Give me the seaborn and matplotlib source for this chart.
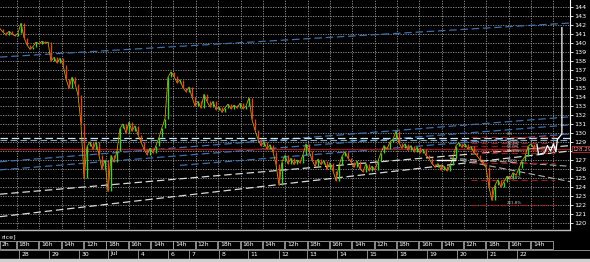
import numpy as np
import pandas as pd
import matplotlib
matplotlib.use("Agg")
import matplotlib.pyplot as plt
import seaborn as sns

# ---------------- data ----------------
close = [141.6, 141.2, 140.9, 141.3, 141.0, 140.8, 141.1, 142.2, 140.6, 139.8,
         139.3, 139.6, 140.1, 139.9, 140.2, 140.0, 140.1, 138.0, 138.4, 137.8,
         138.3, 137.6, 136.0, 135.0, 136.2, 135.5, 134.2, 131.0, 125.0, 128.5,
         129.0, 128.2, 129.0, 127.5, 126.0, 127.0, 123.5, 127.5, 126.8, 128.0,
         130.5, 131.0, 130.0, 131.2, 130.2, 130.8, 129.8, 129.0, 128.2, 127.6,
         128.3, 127.8, 128.6, 129.5, 130.6, 131.6, 136.2, 136.8, 136.3, 135.6,
         135.9, 135.0, 134.6, 135.1, 134.0, 133.0, 133.5, 132.8, 134.3, 133.5,
         132.9, 133.5, 132.6, 132.9, 132.3, 132.8, 133.2, 132.7, 133.1, 132.8,
         133.3, 132.7, 133.0, 133.9, 131.5, 130.3, 129.3, 128.6, 129.0, 128.2,
         128.7, 127.9, 126.5, 124.2, 126.8, 127.5, 126.6, 127.2, 126.5, 127.0,
         126.7, 127.6, 128.8, 128.0, 127.0, 126.3, 127.1, 126.5, 126.9, 126.0,
         126.7, 125.8, 124.7, 126.4, 127.4, 127.9, 127.2, 126.8, 126.2, 126.9,
         126.0, 125.7, 126.6, 125.8, 126.3, 125.9, 126.9, 127.8, 128.6, 128.2,
         129.0, 129.3, 130.2, 128.9, 128.3, 128.8, 128.1, 128.6, 127.9, 128.4,
         127.8, 128.2, 127.5, 127.2, 126.6, 126.2, 126.6, 125.9, 126.3, 125.8,
         126.4, 127.2, 128.6, 128.9, 128.4, 128.8, 128.2, 128.5, 127.8, 127.5,
         127.0, 126.6, 126.2, 124.0, 122.5, 124.2, 124.8, 124.0, 124.6, 125.2,
         124.9, 125.6, 125.3, 126.1, 126.9, 127.4, 128.5, 128.8, 128.3, 128.3]

# trend lines: (bar start, price start, bar end, price end)
blue_trends = [(0, 138.44, 190, 142.22),
               (0, 126.8, 190, 131.8),
               (0, 125.9, 190, 130.9),
               (60, 126.4, 190, 129.9)]
white_trends = [(0, 120.7, 190, 128.0),
                (0, 123.2, 190, 128.6)]
fan_lines = [(150, 127.2, 190, 126.3),
             (150, 127.2, 190, 124.6)]

level_light = [129.45, 129.2]
last_price = 128.22
last_price_label = "128.29"

fib_names = ["0%", "23.6%", "38.2%", "50.0%", "61.8%", "100%", "161.8%", "261.8%"]
fib_values = [129.6, 128.9, 128.5, 128.15, 127.8, 126.7, 124.8, 122.0]
fib_start, fib_end = 157, 185

white_path_x = [179, 179.5, 181.5, 182.5, 183.5, 184.5, 185.3, 185.8, 187.3, 187.3]
white_path_y = [128.7, 127.6, 127.8, 128.6, 128.0, 128.8, 127.9, 129.3, 129.9, 141.7]
white_seg = (145.5, 151.5, 127.0)

first_hour_label = "2h"
hour_labels = ["18h", "16h", "14h", "12h", "18h", "16h", "14h", "14h", "12h", "18h",
               "16h", "14h", "12h", "18h", "16h", "14h", "12h", "18h", "16h", "14h",
               "12h", "18h", "16h", "14h"]
date_labels = ["28", "29", "30", "Jul", "4", "6", "7", "8", "11", "12", "13", "14",
               "15", "18", "19", "20", "21", "22"]
date_bars = [6.3, 16.3, 26.3, 36.0, 46.0, 56.0, 63.0, 73.0, 82.7, 93.0, 102.3,
             112.3, 122.3, 132.3, 142.3, 152.3, 162.3, 172.3]
y_ticks = list(range(120, 145))

# ---------------- figure ----------------
W, H = 590, 262
fig = plt.figure(figsize=(W / 100, H / 100), dpi=100, facecolor="black")
ax = fig.add_axes([0, (H - 229) / H, 570 / W, 229 / H], facecolor="black")

n = len(close)
df = pd.DataFrame({"bar": np.arange(n), "close": close})
df["open"] = df["close"].shift(1).fillna(df["close"])
grid_col = "#9a9a9a"

# grid
grid_step = 7.45
grid_x = 5.67 + grid_step * np.arange(25)
for gx in grid_x:
    ax.axvline(gx, color=grid_col, lw=0.6, ls=(0, (1.5, 1.5)), zorder=0)
for yt in y_ticks:
    ax.axhline(yt, color=grid_col, lw=0.6, ls=(0, (1.5, 1.5)), zorder=0)

# trend lines
for (x0, p0, x1, p1) in blue_trends:
    ax.plot([x0, x1], [p0, p1], color="#3b6fb0", lw=0.9, ls=(0, (6, 3)), zorder=2)
for (x0, p0, x1, p1) in white_trends:
    ax.plot([x0, x1], [p0, p1], color="#d8d8d8", lw=0.9, ls=(0, (6, 3)), zorder=2)
for (x0, p0, x1, p1) in fan_lines:
    ax.plot([x0, x1], [p0, p1], color="#b0b0b0", lw=0.8, ls=(0, (6, 3)), zorder=2)
ax.axhline(level_light[0], color="#cfe8f0", lw=0.9, ls=(0, (6, 3)), zorder=2)
ax.axhline(level_light[1], color="#7fa7c9", lw=0.8, ls=(0, (6, 3)), zorder=2)
ax.axhline(last_price, color="#a01c1c", lw=1.0, zorder=2)

# fib levels
for name, val in zip(fib_names, fib_values):
    ax.plot([fib_start, fib_end], [val, val], color="#9b1a1a", lw=0.9,
            ls=(0, (5, 3)), zorder=2)
    ax.text(169, val + 0.02, name, color="#c8c8c8", fontsize=2.9, ha="left",
            va="bottom", zorder=4)

# price line + candle bodies
sns.lineplot(data=df, x="bar", y="close", ax=ax, color="#c8a020", lw=0.6,
             zorder=3, legend=False)
up = df["close"] >= df["open"]
ax.vlines(df.loc[up, "bar"], df.loc[up, "open"], df.loc[up, "close"],
          color="#3fcf2f", lw=1.0, zorder=4)
ax.vlines(df.loc[~up, "bar"], df.loc[~up, "open"], df.loc[~up, "close"],
          color="#e0461c", lw=1.0, zorder=4)

# white overlays
ax.plot(white_path_x, white_path_y, color="white", lw=0.9, zorder=5)
ax.plot([white_seg[0], white_seg[1]], [white_seg[2], white_seg[2]],
        color="white", lw=1.0, zorder=5)

ax.set_xlim(0, 190)
ax.set_ylim(119.33, 144.78)
ax.set_xticks([])
ax.yaxis.tick_right()
ax.set_yticks(y_ticks)
# the tick label under the current-price box is hidden, as in the terminal
ax.set_yticklabels(["" if v == round(last_price) else str(v) for v in y_ticks],
                   color="white", fontsize=4.6)
ax.tick_params(axis="y", colors="white", length=2, width=0.6, pad=1)
for s in ["top", "left", "bottom"]:
    ax.spines[s].set_visible(False)
ax.spines["right"].set_color("white")
ax.spines["right"].set_linewidth(0.8)
ax.set_xlabel("")
ax.set_ylabel("")

# current price label
ax.text(1.004, last_price, last_price_label, transform=ax.get_yaxis_transform(),
        color="#ff9a9a", fontsize=4.0, va="center", ha="left", clip_on=False,
        zorder=6,
        bbox=dict(boxstyle="square,pad=0.12", fc="black", ec="#c03030", lw=0.6))

# bottom strip
sx = fig.add_axes([0, 0, 570 / W, (H - 229) / H], facecolor="black", sharex=ax)
sx.set_ylim(262, 229)
sx.axis("off")
sx.plot([0, 190], [229.5, 229.5], color="#bdbdbd", lw=1.0, clip_on=False)
sx.text(0.3, 236.5, "rice]", color="white", fontsize=4.6, va="center", ha="left")
# hour boxes
hx = np.concatenate([[0.0], grid_x])
labels_all = [first_hour_label] + hour_labels
for i, lab in enumerate(labels_all):
    x0 = hx[i]
    x1 = hx[i + 1] - 0.3
    sx.plot([x0, x0, x1, x1, x0], [241, 249, 249, 241, 241], color="#a0a0a0",
            lw=0.6, clip_on=True)
    sx.text(x0 + 0.6, 245, lab, color="white", fontsize=4.4, va="center", ha="left",
            clip_on=True)
sx.plot([0, 196.7], [250, 250], color="#a0a0a0", lw=0.6, clip_on=False)
for b, lab in zip(date_bars, date_labels):
    sx.plot([b, b], [250, 258], color="#a0a0a0", lw=0.6)
    sx.text(b + 0.9, 254, lab, color="white", fontsize=4.4, va="center", ha="left")
sx.fill_between([0, 196.7], 258.5, 262, color="#d0d0d0", clip_on=False)

fig.savefig("out.png", dpi=100, facecolor="black")
